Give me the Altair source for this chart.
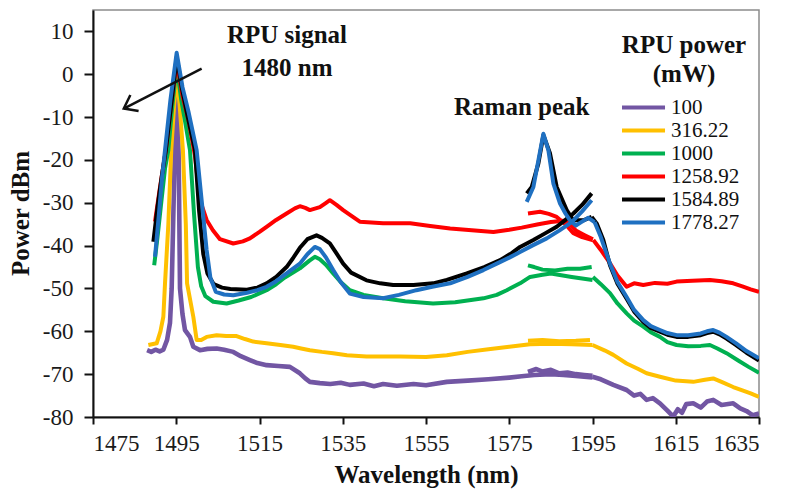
import altair as alt
import pandas as pd

FONT = "Liberation Serif"

# ---- legend / series ----
POWERS = ["100", "316.22", "1000", "1258.92", "1584.89", "1778.27"]
COLORS = ["#7256A3", "#FFC000", "#00B050", "#FF0000", "#000000", "#1F70C1"]

# ---- axis ticks ----
X_TICKS = [1475, 1495, 1515, 1535, 1555, 1575, 1595, 1615, 1635]
Y_TICKS = [-80, -70, -60, -50, -40, -30, -20, -10, 0, 10]

# ---- spectra: (wavelength nm, power dBm); A = main sweep, R = Raman-peak sweep, T = long-wavelength sweep ----
P100_A = [(1488.0, -64.4), (1489.0, -64.8), (1490.0, -64.3), (1491.0, -64.7), (1491.9, -64.3), (1492.8, -62.0),
          (1493.5, -58.0), (1493.9, -50.0), (1494.6, -20.0), (1495.1, -2.0), (1495.6, -20.0), (1495.9, -50.0),
          (1496.5, -56.0), (1497.1, -59.7), (1498.3, -61.3), (1499.1, -63.6), (1500.7, -64.4), (1502.5, -64.1),
          (1504.7, -64.0), (1506.5, -64.3), (1508.7, -64.8), (1510.5, -65.8), (1512.7, -66.7), (1514.5, -67.4),
          (1516.7, -67.9), (1519.5, -68.1), (1522.3, -68.3), (1524.7, -69.8), (1526.0, -71.0), (1527.1, -71.8),
          (1529.5, -72.1), (1532.0, -72.3), (1534.5, -72.0), (1536.7, -72.5), (1540.0, -72.2), (1542.5, -72.8),
          (1544.7, -72.3), (1548.0, -72.7), (1552.0, -72.3), (1555.0, -72.6), (1560.0, -71.8), (1565.0, -71.5),
          (1570.0, -71.2), (1575.0, -70.8), (1578.0, -70.5), (1581.0, -70.2), (1585.0, -70.0), (1588.0, -70.2),
          (1591.0, -70.4), (1595.0, -70.8)]
P100_R = [(1579.5, -69.5), (1581.5, -68.8), (1583.0, -69.4), (1585.0, -69.0), (1587.0, -69.8), (1589.0, -69.6),
          (1591.0, -70.0), (1593.0, -70.2), (1595.0, -70.4)]
P100_T = [(1595.0, -70.6), (1597.0, -71.2), (1600.0, -72.5), (1603.2, -73.7), (1605.0, -75.0), (1606.5, -74.6),
          (1608.0, -76.0), (1609.5, -75.6), (1611.2, -76.8), (1613.0, -78.5), (1614.4, -79.9), (1615.5, -78.2),
          (1616.5, -79.0), (1617.5, -77.0), (1619.2, -76.8), (1621.0, -77.8), (1622.5, -76.4), (1624.0, -76.0),
          (1626.0, -77.2), (1628.8, -76.8), (1630.5, -78.0), (1632.0, -78.6), (1633.5, -79.6), (1635.0, -79.2)]

Y316_A = [(1488.3, -63.2), (1490.3, -62.8), (1491.2, -60.0), (1491.9, -56.6), (1492.3, -48.8), (1493.1, -35.0),
          (1493.8, -17.7), (1494.5, -7.0), (1495.1, 0.0), (1495.8, -7.0), (1496.6, -17.7), (1497.3, -35.0),
          (1497.6, -48.8), (1499.1, -56.6), (1499.9, -62.0), (1501.0, -62.0), (1502.3, -61.3), (1504.7, -60.9),
          (1507.0, -61.1), (1509.5, -61.1), (1511.5, -61.8), (1513.5, -62.4), (1516.7, -62.8), (1520.0, -63.2),
          (1523.1, -63.6), (1525.0, -64.0), (1527.1, -64.4), (1530.0, -64.8), (1532.7, -65.1), (1536.0, -65.6),
          (1540.7, -65.9), (1548.8, -65.9), (1555.0, -66.0), (1560.0, -65.6), (1565.0, -64.8), (1570.0, -64.2),
          (1575.0, -63.6), (1580.0, -63.0), (1585.0, -62.9), (1590.0, -63.0), (1595.0, -63.2)]
Y316_R = [(1579.5, -62.2), (1583.0, -62.0), (1587.0, -62.3), (1591.0, -62.2), (1594.4, -62.0)]
Y316_T = [(1595.0, -63.2), (1598.0, -64.5), (1600.0, -65.5), (1603.2, -67.5), (1606.0, -68.8), (1608.0, -69.8),
          (1611.2, -70.6), (1615.0, -71.5), (1619.2, -71.8), (1622.0, -71.3), (1624.0, -71.0), (1626.0, -71.8),
          (1628.8, -73.0), (1631.0, -73.8), (1633.0, -74.5), (1635.0, -75.3)]

G1000_A = [(1489.7, -44.6), (1490.5, -38.0), (1491.5, -29.0), (1492.3, -22.0), (1493.1, -17.7), (1494.0, -8.0),
           (1495.1, 2.0), (1496.2, -6.0), (1497.3, -12.0), (1498.3, -17.7), (1499.3, -33.0), (1500.2, -45.0),
           (1501.0, -49.5), (1502.0, -51.8), (1503.9, -53.1), (1507.1, -53.5), (1510.0, -52.8), (1513.0, -52.0),
           (1516.7, -50.4), (1519.0, -49.0), (1521.0, -47.5), (1524.7, -45.3), (1527.0, -43.5), (1528.3, -42.6),
           (1529.5, -43.2), (1531.0, -44.5), (1532.7, -46.5), (1534.5, -48.5), (1536.7, -50.4), (1540.0, -51.5),
           (1544.7, -52.3), (1550.0, -53.0), (1556.7, -53.5), (1562.0, -53.2), (1568.8, -52.3), (1572.0, -51.5),
           (1574.4, -50.4), (1577.6, -48.8), (1580.0, -47.3), (1583.0, -46.8), (1585.0, -46.5), (1590.0, -47.3),
           (1595.0, -48.0)]
G1000_R = [(1579.5, -44.6), (1581.0, -45.0), (1583.0, -45.6), (1586.0, -45.8), (1589.0, -45.4), (1592.0, -45.4),
           (1594.8, -45.0)]
G1000_T = [(1595.1, -47.3), (1597.0, -49.0), (1599.2, -51.1), (1601.0, -53.5), (1603.2, -55.8), (1605.0, -57.5),
           (1607.2, -58.9), (1609.0, -60.2), (1611.2, -61.3), (1613.0, -62.5), (1615.2, -63.2), (1618.0, -63.5),
           (1621.0, -63.4), (1623.2, -63.2), (1625.0, -64.0), (1627.2, -65.1), (1630.0, -66.8), (1632.5, -68.3),
           (1635.0, -69.7)]

R1259_A = [(1489.9, -34.4), (1491.0, -27.0), (1492.5, -17.7), (1493.8, -7.0), (1495.1, 3.0), (1496.5, -5.0),
           (1498.0, -11.0), (1499.5, -19.0), (1500.7, -29.4), (1502.3, -34.0), (1503.8, -36.4), (1505.5, -38.5),
           (1508.7, -39.5), (1511.0, -39.0), (1512.7, -38.3), (1515.0, -36.8), (1516.7, -35.6), (1519.0, -34.0),
           (1521.5, -32.5), (1523.5, -31.3), (1524.7, -30.8), (1526.0, -31.2), (1527.1, -31.7), (1529.5, -31.0),
           (1531.0, -30.0), (1531.9, -29.4), (1533.5, -30.5), (1535.1, -31.7), (1537.0, -33.0), (1539.1, -34.4),
           (1544.7, -34.8), (1551.2, -34.8), (1556.0, -35.4), (1560.8, -36.0), (1566.0, -36.4), (1571.2, -36.8),
           (1575.0, -36.3), (1578.0, -35.8), (1582.0, -35.0), (1585.0, -34.5), (1588.0, -34.2), (1589.5, -34.8),
           (1591.0, -36.5), (1593.0, -37.5), (1595.1, -38.5)]
R1259_R = [(1579.5, -32.5), (1582.4, -32.1), (1584.5, -32.6), (1586.4, -33.3), (1588.5, -35.0), (1590.4, -37.1),
           (1592.5, -38.0), (1595.0, -38.7)]
R1259_T = [(1595.2, -38.7), (1597.0, -41.0), (1599.2, -44.1), (1601.0, -47.0), (1603.2, -49.6), (1605.0, -48.8),
           (1607.2, -49.2), (1610.0, -48.7), (1613.0, -48.9), (1615.2, -48.4), (1619.0, -48.2), (1623.2, -48.0),
           (1626.0, -48.3), (1628.8, -48.8), (1631.0, -49.5), (1633.0, -50.2), (1635.0, -50.8)]

K1585_A = [(1489.5, -39.1), (1490.5, -31.0), (1491.5, -24.0), (1492.5, -17.7), (1493.8, -7.0), (1495.1, 4.0),
           (1496.5, -4.0), (1498.0, -11.0), (1499.5, -17.7), (1500.5, -32.0), (1501.5, -42.0), (1502.5, -46.5),
           (1504.0, -49.0), (1506.0, -49.8), (1508.0, -50.1), (1512.0, -50.3), (1514.5, -49.8), (1516.7, -48.8),
           (1519.0, -47.3), (1521.5, -45.0), (1523.0, -43.0), (1524.7, -40.5), (1526.5, -38.5), (1528.7, -37.6),
           (1530.0, -38.2), (1531.9, -39.5), (1533.5, -41.8), (1535.1, -44.2), (1537.0, -46.3), (1540.7, -48.1),
           (1544.0, -48.8), (1547.1, -49.2), (1552.0, -49.2), (1556.7, -48.8), (1560.0, -48.0), (1564.8, -46.5),
           (1569.0, -45.0), (1572.8, -43.4), (1575.5, -41.8), (1577.6, -40.3), (1580.8, -38.7), (1583.5, -37.2),
           (1586.4, -35.6), (1588.5, -34.0), (1590.4, -32.5), (1592.5, -30.5), (1594.8, -27.8)]
K1585_R = [(1579.2, -27.8), (1580.4, -26.3), (1582.0, -20.8), (1583.2, -14.2), (1584.8, -18.5), (1586.4, -26.3),
           (1588.8, -31.7), (1590.4, -34.1), (1592.8, -34.1), (1594.8, -33.3)]
K1585_T = [(1594.8, -33.3), (1596.0, -34.8), (1597.6, -38.7), (1599.2, -44.6), (1601.0, -48.9), (1603.2, -52.4),
           (1605.0, -55.4), (1607.2, -57.8), (1609.0, -59.2), (1611.2, -60.1), (1613.0, -60.8), (1615.2, -61.3),
           (1618.0, -61.3), (1621.0, -60.9), (1622.5, -60.4), (1624.0, -60.1), (1625.5, -60.7), (1627.2, -61.7),
           (1629.5, -63.2), (1632.0, -65.0), (1635.0, -66.8)]

B1778_A = [(1489.9, -42.6), (1490.8, -33.0), (1491.6, -24.0), (1492.3, -17.7), (1493.6, -6.0), (1495.1, 5.0),
           (1496.5, -3.0), (1498.0, -9.0), (1499.9, -17.7), (1501.1, -29.4), (1502.3, -41.0), (1503.2, -47.5),
           (1504.5, -50.8), (1506.5, -51.4), (1508.7, -51.6), (1512.0, -51.0), (1514.5, -50.4), (1516.7, -49.6),
           (1519.0, -48.3), (1521.5, -46.5), (1524.7, -44.2), (1526.5, -42.0), (1528.3, -40.3), (1529.5, -40.8),
           (1531.0, -42.8), (1532.7, -45.7), (1534.5, -48.5), (1536.7, -51.2), (1540.0, -52.0), (1544.7, -52.3),
           (1548.5, -51.5), (1552.7, -50.4), (1556.5, -49.6), (1560.8, -48.8), (1565.0, -47.3), (1568.8, -45.7),
           (1572.0, -44.2), (1575.0, -42.8), (1577.6, -41.5), (1580.5, -40.0), (1584.0, -38.3), (1587.0, -36.5),
           (1590.0, -34.5), (1592.5, -32.0), (1594.8, -29.4)]
B1778_R = [(1579.2, -29.8), (1580.8, -26.3), (1582.0, -20.1), (1583.2, -13.9), (1584.4, -17.7), (1585.6, -25.5),
           (1587.2, -30.2), (1588.5, -32.5), (1589.6, -34.1), (1591.0, -35.3), (1592.3, -34.5), (1594.0, -33.5),
           (1595.5, -34.5)]
B1778_T = [(1595.5, -34.5), (1597.0, -38.0), (1599.2, -44.2), (1601.0, -48.5), (1603.2, -52.0), (1605.0, -55.0),
           (1607.2, -57.4), (1609.0, -58.8), (1611.2, -59.7), (1613.0, -60.4), (1615.2, -60.9), (1618.0, -60.9),
           (1621.0, -60.5), (1622.5, -60.0), (1624.0, -59.7), (1625.5, -60.3), (1627.2, -61.3), (1629.5, -62.8),
           (1632.0, -64.6), (1635.0, -66.3)]

SEGMENTS = {
    "100": [P100_A, P100_R, P100_T],
    "316.22": [Y316_A, Y316_R, Y316_T],
    "1000": [G1000_A, G1000_R, G1000_T],
    "1258.92": [R1259_A, R1259_R, R1259_T],
    "1584.89": [K1585_A, K1585_R, K1585_T],
    "1778.27": [B1778_A, B1778_R, B1778_T],
}

# ---- annotations (data coordinates) ----
NOTE_TEXT = ["RPU signal", "1480 nm", "Raman peak"]
NOTE_X = [1521.6, 1521.6, 1578.0]
NOTE_Y = [9.1, 1.4, -7.7]
ARROW_X = [1501.1, 1482.4]
ARROW_Y = [1.3, -8.0]

rows = []
for p in POWERS:
    for k, seg in enumerate(SEGMENTS[p]):
        for i, (x, y) in enumerate(seg):
            rows.append({"wl": x, "dbm": y, "power": p, "seg": f"{p}-{k}", "idx": i})
df = pd.DataFrame(rows)

xscale = alt.Scale(domain=[1475, 1635], nice=False, zero=False)
yscale = alt.Scale(domain=[-80, 15], nice=False, zero=False)
cscale = alt.Scale(domain=POWERS, range=COLORS)

AXIS_STYLE = dict(
    grid=False, labelFont=FONT, labelFontSize=23, labelColor="#1a1a1a",
    titleFont=FONT, titleFontSize=25, titleFontWeight="bold", titleColor="#111",
    domainColor="#111", domainWidth=2, tickColor="#111", tickWidth=2,
)
xaxis = alt.Axis(values=X_TICKS, format="d", title="Wavelength (nm)",
                 tickSize=7, labelPadding=8, titleY=65, titleBaseline="alphabetic", **AXIS_STYLE)
yaxis = alt.Axis(values=Y_TICKS, labelExpr="'' + datum.value", title="Power dBm",
                 tickSize=9, labelPadding=11, titleX=-65, titleY=203, titleAngle=-90,
                 titleBaseline="alphabetic", titleAlign="center", **AXIS_STYLE)

legend = alt.Legend(title=["RPU power", "(mW)"], orient="none", legendX=529, legendY=23,
                    titleFontSize=25, titleFont=FONT, titleFontWeight="bold", titleColor="#111",
                    titleAlign="center", titleAnchor="middle", titleLineHeight=29, titlePadding=10,
                    labelFontSize=21, labelFont=FONT, labelColor="#111", labelOffset=22,
                    symbolType="M-1.94,0H3.12", symbolSize=289, symbolStrokeWidth=4,
                    rowPadding=1, padding=0)

base = alt.Chart(df)
layers = []
for p in POWERS:
    enc = dict(
        x=alt.X("wl:Q", scale=xscale, axis=xaxis, title="Wavelength (nm)"),
        y=alt.Y("dbm:Q", scale=yscale, axis=yaxis, title="Power dBm"),
        color=alt.Color("power:N", scale=cscale, legend=legend, title=["RPU power", "(mW)"]),
        detail="seg:N",
        order="idx:Q",
    )
    layers.append(
        base.transform_filter(alt.datum.power == p)
        .mark_line(strokeWidth=4.6 if p == "100" else 4, strokeJoin="round", clip=True)
        .encode(**enc)
    )

notes_df = pd.DataFrame({"t": NOTE_TEXT, "x": NOTE_X, "y": NOTE_Y})
notes = alt.Chart(notes_df).mark_text(font=FONT, fontSize=25, fontWeight="bold", color="#111",
                                      align="center", baseline="middle").encode(
    x=alt.X("x:Q", scale=xscale, axis=xaxis, title="Wavelength (nm)"),
    y=alt.Y("y:Q", scale=yscale, axis=yaxis, title="Power dBm"), text="t:N")

arrow_df = pd.DataFrame({"x": [ARROW_X[0]], "y": [ARROW_Y[0]], "x2": [ARROW_X[1]], "y2": [ARROW_Y[1]]})
shaft = alt.Chart(arrow_df).mark_rule(color="#111", strokeWidth=2.5).encode(
    x=alt.X("x:Q", scale=xscale, axis=xaxis, title="Wavelength (nm)"),
    y=alt.Y("y:Q", scale=yscale, axis=yaxis, title="Power dBm"), x2="x2:Q", y2="y2:Q")
head = alt.Chart(arrow_df).mark_point(shape="M-1,-0.75L0,0L-1,0.75", filled=False, color="#111",
                                      strokeWidth=2.5, size=576, angle=152.8, opacity=1).encode(
    x=alt.X("x2:Q", scale=xscale, axis=xaxis, title="Wavelength (nm)"),
    y=alt.Y("y2:Q", scale=yscale, axis=yaxis, title="Power dBm"))

chart = alt.layer(*layers, notes, shaft, head).properties(
    width=666, height=407,
    background="white",
    autosize=alt.AutoSizeParams(type="none"),
    padding={"left": 93, "top": 10, "right": 28, "bottom": 73},
).configure_view(
    stroke="#8c8c8c", strokeWidth=1.5
)

chart.save("out.html", embed_options={"renderer": "svg", "actions": False})
